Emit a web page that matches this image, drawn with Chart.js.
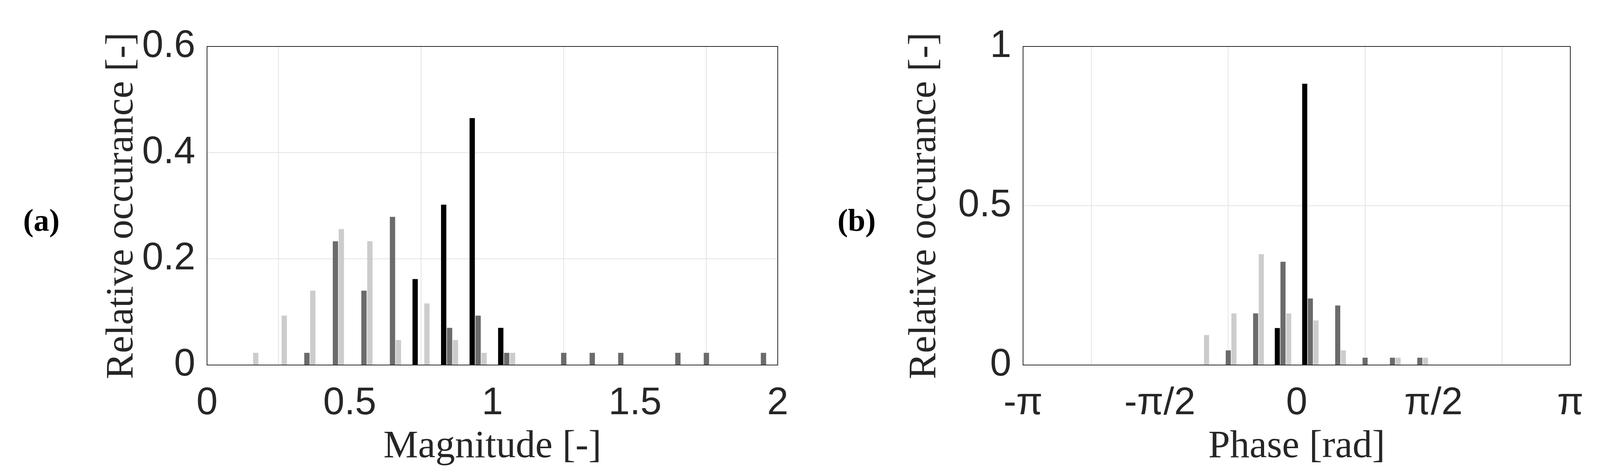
<!DOCTYPE html>
<html>
<head>
<meta charset="utf-8">
<script src="https://cdn.jsdelivr.net/npm/chart.js@4.4.1/dist/chart.umd.min.js"></script>
<style>
  html, body { margin: 0; padding: 0; background: #fff; overflow: hidden; }
  #wrap { position: relative; width: 4152px; height: 1209px; }
  .pane { position: absolute; top: 0; width: 2076px; height: 1209px; }
</style>
</head>
<body>
<div id="wrap">
  <div class="pane" style="left:0"><canvas id="chartA"></canvas></div>
  <div class="pane" style="left:2076px"><canvas id="chartB"></canvas></div>
</div>
<script>
// (a) magnitude histogram, bin centres
const magBlackX = [0.75, 0.85, 0.95, 1.05];
const magBlackY = [0.162, 0.302, 0.465, 0.07];
const magDarkX = [0.35, 0.45, 0.55, 0.65, 0.85, 0.95, 1.05, 1.25, 1.35, 1.45, 1.65, 1.75, 1.95];
const magDarkY = [0.023, 0.233, 0.14, 0.279, 0.07, 0.093, 0.023, 0.023, 0.023, 0.023, 0.023, 0.023, 0.023];
const magLightX = [0.15, 0.25, 0.35, 0.45, 0.55, 0.65, 0.75, 0.85, 0.95, 1.05];
const magLightY = [0.023, 0.093, 0.14, 0.256, 0.233, 0.047, 0.116, 0.047, 0.023, 0.023];
const magTicksX = [0, 0.5, 1, 1.5, 2];
const magTicksY = [0, 0.2, 0.4, 0.6];

// (b) phase histogram, bin centres in units of pi/20
const phaseBlackBin = [-1, 1];
const phaseBlackY = [0.116, 0.883];
const phaseDarkBin = [-5, -3, -1, 1, 3, 5, 7, 9];
const phaseDarkY = [0.046, 0.162, 0.324, 0.209, 0.187, 0.023, 0.023, 0.023];
const phaseLightBin = [-7, -5, -3, -1, 1, 3, 7, 9];
const phaseLightY = [0.094, 0.162, 0.348, 0.162, 0.14, 0.046, 0.023, 0.023];
const phaseTicks = [-Math.PI, -Math.PI / 2, 0, Math.PI / 2, Math.PI];
const phaseTickLabels = ['-π', '-π/2', '0', 'π/2', 'π'];
const phaseTicksY = [0, 0.5, 1];

const cols = ['#000000', '#6b6b6b', '#cccccc'];
const tickFont = { family: '"Liberation Sans", Arial, sans-serif', size: 98 };
const titleFont = { family: '"Liberation Serif", "DejaVu Serif", serif', size: 100 };
const ink = '#262626';

const toPts = (xs, ys) => xs.map((x, i) => ({ x: x, y: ys[i] }));

const boxPlugin = {
  id: 'box',
  afterDraw(chart, args, opts) {
    const { ctx, chartArea: a } = chart;
    ctx.save();
    ctx.strokeStyle = ink;
    ctx.lineWidth = 2;
    ctx.strokeRect(a.left, a.top, a.right - a.left, a.bottom - a.top);
    ctx.fillStyle = '#000';
    ctx.font = 'bold 80px "Liberation Serif"';
    ctx.textAlign = 'center';
    ctx.textBaseline = 'middle';
    ctx.fillText(opts.label, opts.labelX, 570);
    ctx.restore();
  }
};

function makeChart(id, sets, xTicks, xLabels, xMin, xMax, yTicks, yMax, pad, label, labelX, titleX, yAxisW) {
  new Chart(document.getElementById(id), {
    type: 'bar',
    data: {
      datasets: sets.map((s, i) => ({
        data: s,
        backgroundColor: cols[i],
        categoryPercentage: 0.62,
        barPercentage: 0.9
      }))
    },
    options: {
      responsive: true,
      maintainAspectRatio: false,
      animation: false,
      layout: { padding: pad },
      plugins: { legend: { display: false }, tooltip: { enabled: false },
        box: { label: label, labelX: labelX } },
      scales: {
        x: {
          type: 'linear',
          min: xMin,
          max: xMax,
          offset: false,
          grid: { color: '#e4e4e4', lineWidth: 2, drawTicks: false },
          border: { color: ink, width: 2 },
          afterBuildTicks: s => { s.ticks = xTicks.map(v => ({ value: v })); },
          ticks: { font: tickFont, color: ink, padding: 40, maxRotation: 0, autoSkip: false,
            callback: (v, i) => xLabels[i] },
          title: { display: true, text: titleX, font: titleFont, color: ink, padding: { top: 0 } },
          afterFit: s => { s.height = 274; }
        },
        y: {
          min: 0,
          max: yMax,
          grid: { color: '#e4e4e4', lineWidth: 2, drawTicks: false },
          border: { color: ink, width: 2 },
          afterBuildTicks: s => { s.ticks = yTicks.map(v => ({ value: v })); },
          ticks: { font: tickFont, color: ink, padding: 30, autoSkip: false, callback: v => String(v) },
          title: { display: true, text: 'Relative occurance [-]', font: titleFont, color: ink,
            padding: { top: 0, bottom: 0 } },
          afterFit: s => { s.width = yAxisW; }
        }
      }
    },
    plugins: [boxPlugin]
  });
}

makeChart('chartA',
  [toPts(magBlackX, magBlackY), toPts(magDarkX, magDarkY), toPts(magLightX, magLightY)],
  magTicksX, magTicksX.map(String), 0, 2, magTicksY, 0.6,
  { left: 253, top: 119, right: 85, bottom: 0 },
  '(a)', 106, 'Magnitude [-]', 277);

const toPhase = (bins, ys) => bins.map((b, i) => ({ x: b * Math.PI / 20, y: ys[i] }));
makeChart('chartB',
  [toPhase(phaseBlackBin, phaseBlackY), toPhase(phaseDarkBin, phaseDarkY), toPhase(phaseLightBin, phaseLightY)],
  phaseTicks, phaseTickLabels, -Math.PI, Math.PI, phaseTicksY, 1,
  { left: 232, top: 119, right: 132, bottom: 0 },
  '(b)', 117, 'Phase [rad]', 311);
</script>
</body>
</html>
